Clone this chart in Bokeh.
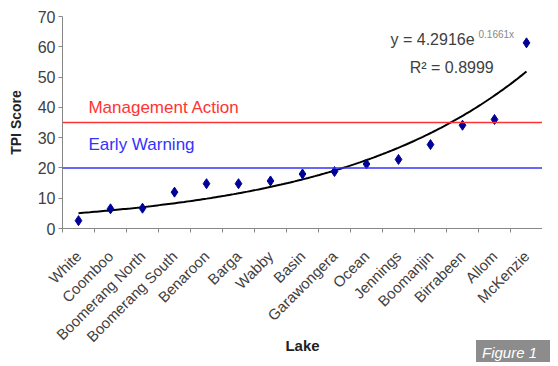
import numpy as np
from bokeh.plotting import figure
from bokeh.layouts import column
from bokeh.models import FixedTicker, Span, Label, Range1d, Div
from bokeh.embed import file_html
from bokeh.resources import INLINE

lakes = ["White", "Coomboo", "Boomerang North", "Boomerang South", "Benaroon",
         "Barga", "Wabby", "Basin", "Garawongera", "Ocean", "Jennings",
         "Boomanjin", "Birrabeen", "Allom", "McKenzie"]
tpi = [2.6, 6.5, 6.7, 12.0, 14.8, 14.8, 15.7, 18.0, 18.8, 21.3, 22.8, 27.7, 34.1, 36.0, 61.3]
management_action = 35
early_warning = 20
fit_a = 4.2916
fit_b = 0.1661
fit_r2 = 0.8999

FONT = "Liberation Sans"
TXT = "#404040"

xs = list(range(1, len(lakes) + 1))

p = figure(width=542, height=358, output_backend="svg", toolbar_location=None,
           x_range=Range1d(0.5, 15.5), y_range=Range1d(0, 70),
           min_border_left=62, min_border_right=0, min_border_top=16, min_border_bottom=130)
p.outline_line_color = None
p.xgrid.visible = False
p.ygrid.visible = False

# y axis
p.yaxis.ticker = FixedTicker(ticks=list(range(0, 71, 10)))
p.yaxis.axis_line_color = "#888888"
p.yaxis.major_tick_line_color = "#888888"
p.yaxis.major_tick_out = 4
p.yaxis.major_tick_in = 0
p.yaxis.minor_tick_line_color = None
p.yaxis.major_label_standoff = 3
p.yaxis.major_label_text_font = FONT
p.yaxis.major_label_text_font_size = "16px"
p.yaxis.major_label_text_color = TXT
p.yaxis.axis_label = "TPI Score"
p.yaxis.axis_label_text_font = FONT
p.yaxis.axis_label_text_font_style = "bold"
p.yaxis.axis_label_text_font_size = "14px"
p.yaxis.axis_label_text_color = "#222222"
p.yaxis.axis_label_standoff = 11

# x axis
p.xaxis.ticker = FixedTicker(ticks=xs, minor_ticks=[x + 0.5 for x in range(0, 16)])
p.xaxis.major_label_overrides = {x: name for x, name in zip(xs, lakes)}
p.xaxis.major_label_orientation = np.pi / 4
p.xaxis.major_label_standoff = 19
p.xaxis.axis_line_color = "#888888"
p.xaxis.major_tick_line_color = None
p.xaxis.minor_tick_line_color = "#888888"
p.xaxis.minor_tick_out = 4
p.xaxis.minor_tick_in = 0
p.xaxis.major_label_text_font = FONT
p.xaxis.major_label_text_font_size = "15px"
p.xaxis.major_label_text_color = TXT
p.xaxis.axis_label = "Lake"
p.xaxis.axis_label_text_font = FONT
p.xaxis.axis_label_text_font_style = "bold"
p.xaxis.axis_label_text_font_size = "15px"
p.xaxis.axis_label_text_color = "#222222"
p.xaxis.axis_label_standoff = -17

# threshold lines
p.add_layout(Span(location=management_action, dimension="width", line_color="#ff3333", line_width=1.5))
p.add_layout(Span(location=early_warning, dimension="width", line_color="#3333ff", line_width=1.5))

# trendline from fitted equation
cx = np.linspace(1, 15, 200)
p.line(cx, fit_a * np.exp(fit_b * cx), line_color="black", line_width=2)

# points
p.scatter(xs, tpi, marker="diamond", size=10, fill_color="#000099", line_color="#000099")

p.add_layout(Label(x=1.31, y=40, text="Management Action", text_color="#ff3333",
                   text_font=FONT, text_font_size="17px", text_baseline="middle"))
p.add_layout(Label(x=1.31, y=27.7, text="Early Warning", text_color="#3333ff",
                   text_font=FONT, text_font_size="17px", text_baseline="middle"))
p.add_layout(Label(x=10.75, y=62.4, text="y = %.4fe" % fit_a, text_color=TXT,
                   text_font=FONT, text_font_size="16px", text_baseline="middle"))
p.add_layout(Label(x=13.5, y=64.0, text="%.4fx" % fit_b, text_color="#888888",
                   text_font=FONT, text_font_size="10px", text_baseline="middle"))
p.add_layout(Label(x=11.35, y=53.0, text="R² = %.4f" % fit_r2, text_color=TXT,
                   text_font=FONT, text_font_size="16px", text_baseline="middle"))

caption = Div(text="Figure 1", width=74, height=22, margin=(-18, 0, 0, 476),
              styles={"background-color": "#8c8c8c", "color": "white",
                      "font-style": "italic", "font-family": "Liberation Sans",
                      "font-size": "15px", "padding": "2px 6px", "white-space": "nowrap",
                      "box-sizing": "border-box", "overflow": "hidden"})

layout = column(p, caption, spacing=0)

open("out.html", "w").write(file_html(layout, INLINE))
